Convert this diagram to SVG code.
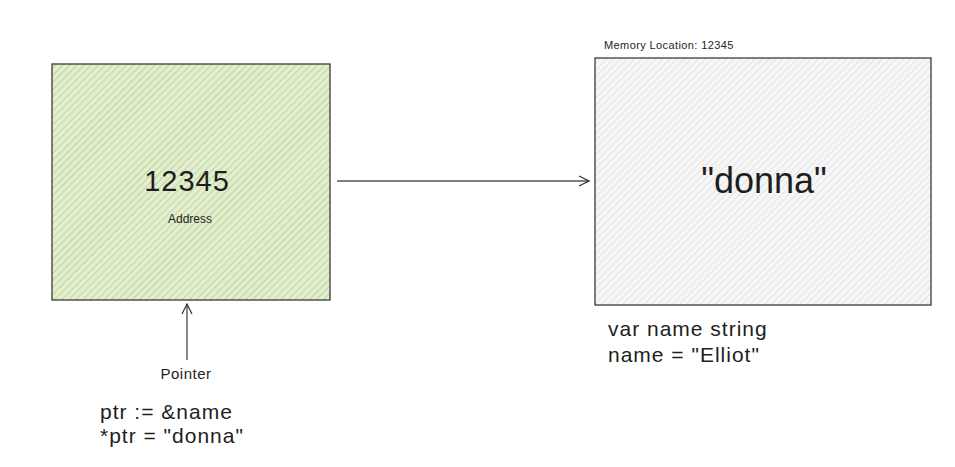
<svg xmlns="http://www.w3.org/2000/svg" width="955" height="467" viewBox="0 0 955 467">
<style>
text{font-family:"Liberation Sans","DejaVu Sans",sans-serif;fill:#1e1e1e}
.box{stroke:#3a3a3a;stroke-width:1.3}
.conn{stroke:#555;stroke-width:1.4;fill:none}
.code{font-size:21px;letter-spacing:1px}
</style>
<defs>
<pattern id="hg" width="5" height="5" patternUnits="userSpaceOnUse" patternTransform="rotate(45)">
<rect width="5" height="5" fill="#e2eecf"/>
<line x1="0" y1="0" x2="0" y2="5" stroke="#b4d289" stroke-width="1.6"/>
</pattern>
<pattern id="hy" width="5" height="5" patternUnits="userSpaceOnUse" patternTransform="rotate(45)">
<rect width="5" height="5" fill="#f6f6f6"/>
<line x1="0" y1="0" x2="0" y2="5" stroke="#dcdcdc" stroke-width="1.4"/>
</pattern>
<marker id="ah" viewBox="0 0 12 12" refX="11" refY="6" markerWidth="12" markerHeight="12" markerUnits="userSpaceOnUse" orient="auto">
<path d="M1,1 L11,6 L1,11" fill="none" stroke="#333" stroke-width="1.2"/>
</marker>
</defs>
<rect width="955" height="467" fill="#fff"/>
<g id="pointer-box">
<rect class="box" x="52" y="64" width="278" height="236" fill="url(#hg)"/>
<text x="187" y="191" font-size="29" letter-spacing="1" text-anchor="middle">12345</text>
<text x="190" y="223" font-size="12" text-anchor="middle">Address</text>
</g>
<g id="memory-box">
<text x="604" y="49" font-size="11" letter-spacing="0.4">Memory Location: 12345</text>
<rect class="box" x="595" y="58" width="336" height="247" fill="url(#hy)"/>
<text x="764" y="193" font-size="36" text-anchor="middle">"donna"</text>
</g>
<g id="pointer-label">
<text x="186" y="379" font-size="15" letter-spacing="0.5" text-anchor="middle">Pointer</text>
</g>
<g id="code-left">
<text class="code" x="100" y="419" letter-spacing="2">ptr := &amp;name</text>
<text class="code" x="100" y="443" letter-spacing="1.5">*ptr = "donna"</text>
</g>
<g id="code-right">
<text class="code" x="608" y="336">var name string</text>
<text class="code" x="608" y="362">name = "Elliot"</text>
</g>
<g id="connectors">
<line class="conn" x1="337" y1="181" x2="589" y2="181" marker-end="url(#ah)"/>
<line class="conn" x1="187" y1="360" x2="187" y2="304" marker-end="url(#ah)"/>
</g>
</svg>
